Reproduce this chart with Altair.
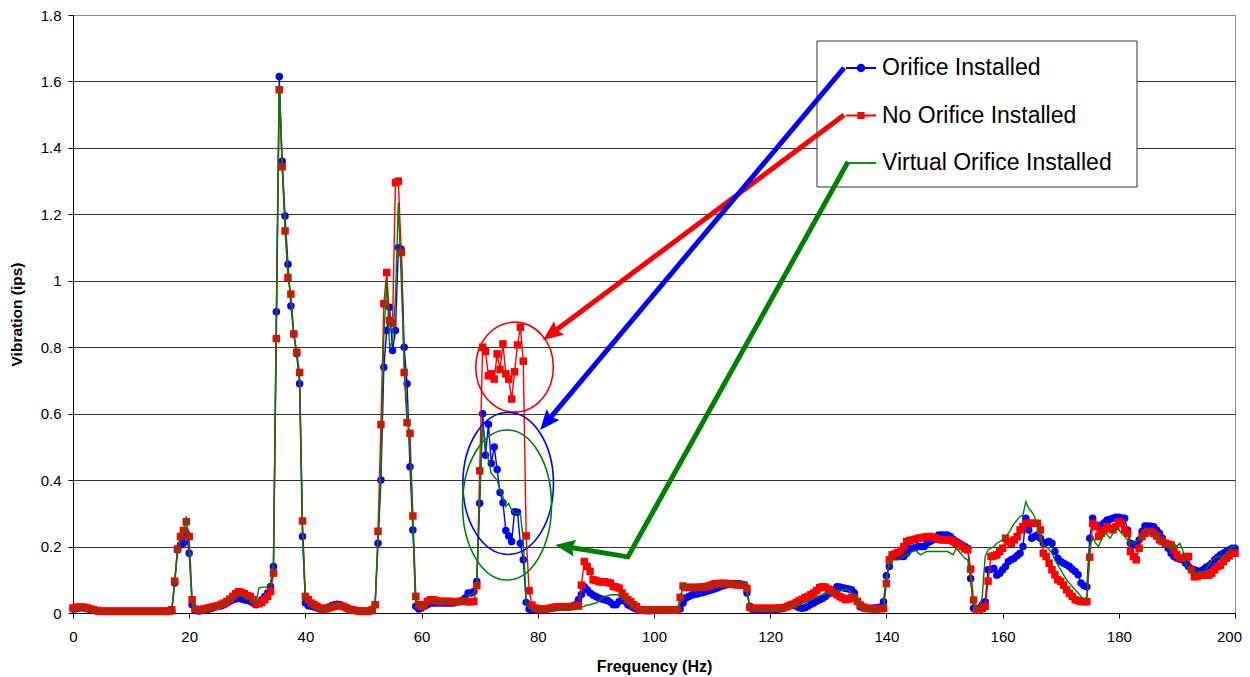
import math
import altair as alt
import pandas as pd

# ---------------- data ----------------
SERIES = ["Orifice Installed", "No Orifice Installed", "Virtual Orifice Installed"]
COLORS = ["#0000FF", "#FF0000", "#008000"]

FREQ = [i * 0.5 for i in range(401)]  # spectral lines, Hz

ORIFICE = [
    0.012, 0.013, 0.015, 0.016, 0.015, 0.013, 0.010, 0.008, 0.006, 0.005, 0.005, 0.005, 0.005, 0.005, 0.005, 0.005, 0.005, 0.005, 0.005, 0.005,
    0.005, 0.005, 0.005, 0.005, 0.005, 0.005, 0.005, 0.005, 0.005, 0.005, 0.005, 0.005, 0.005, 0.005, 0.006, 0.090, 0.190, 0.205, 0.210, 0.240,
    0.180, 0.025, 0.008, 0.006, 0.007, 0.008, 0.010, 0.012, 0.015, 0.018, 0.020, 0.022, 0.025, 0.030, 0.035, 0.040, 0.042, 0.045, 0.042, 0.040,
    0.038, 0.035, 0.030, 0.025, 0.030, 0.040, 0.050, 0.060, 0.080, 0.140, 0.907, 1.615, 1.360, 1.195, 1.050, 0.924, 0.840, 0.780, 0.690, 0.230,
    0.030, 0.022, 0.020, 0.018, 0.015, 0.012, 0.012, 0.015, 0.018, 0.022, 0.025, 0.026, 0.025, 0.020, 0.015, 0.012, 0.010, 0.008, 0.006, 0.005,
    0.005, 0.005, 0.006, 0.010, 0.025, 0.210, 0.400, 0.740, 0.850, 0.920, 0.790, 0.850, 1.100, 1.095, 0.800, 0.690, 0.440, 0.250, 0.020, 0.012,
    0.015, 0.020, 0.025, 0.030, 0.030, 0.030, 0.030, 0.030, 0.030, 0.030, 0.030, 0.030, 0.032, 0.035, 0.038, 0.045, 0.060, 0.060, 0.065, 0.095,
    0.330, 0.600, 0.475, 0.568, 0.450, 0.500, 0.432, 0.363, 0.332, 0.248, 0.232, 0.215, 0.305, 0.303, 0.210, 0.160, 0.032, 0.012, 0.010, 0.010,
    0.010, 0.012, 0.012, 0.013, 0.014, 0.015, 0.016, 0.017, 0.018, 0.018, 0.018, 0.018, 0.020, 0.025, 0.040, 0.056, 0.079, 0.070, 0.060, 0.054,
    0.050, 0.045, 0.042, 0.040, 0.038, 0.032, 0.025, 0.025, 0.035, 0.040, 0.035, 0.025, 0.020, 0.015, 0.012, 0.010, 0.008, 0.007, 0.007, 0.007,
    0.008, 0.008, 0.009, 0.009, 0.010, 0.010, 0.010, 0.010, 0.010, 0.012, 0.030, 0.045, 0.050, 0.054, 0.056, 0.058, 0.060, 0.062, 0.065, 0.068,
    0.070, 0.073, 0.076, 0.080, 0.083, 0.085, 0.087, 0.089, 0.089, 0.088, 0.087, 0.085, 0.060, 0.020, 0.010, 0.008, 0.008, 0.008, 0.008, 0.008,
    0.009, 0.010, 0.011, 0.012, 0.013, 0.016, 0.020, 0.024, 0.024, 0.020, 0.016, 0.014, 0.016, 0.020, 0.026, 0.030, 0.035, 0.040, 0.044, 0.050,
    0.057, 0.062, 0.070, 0.079, 0.078, 0.076, 0.074, 0.072, 0.070, 0.060, 0.035, 0.019, 0.015, 0.014, 0.014, 0.014, 0.015, 0.016, 0.018, 0.034,
    0.112, 0.140, 0.170, 0.170, 0.170, 0.170, 0.170, 0.180, 0.195, 0.195, 0.197, 0.200, 0.200, 0.200, 0.210, 0.215, 0.220, 0.228, 0.235, 0.235,
    0.235, 0.235, 0.230, 0.222, 0.215, 0.210, 0.205, 0.200, 0.195, 0.104, 0.014, 0.012, 0.015, 0.025, 0.034, 0.130, 0.132, 0.134, 0.114, 0.120,
    0.130, 0.140, 0.155, 0.160, 0.165, 0.172, 0.180, 0.200, 0.285, 0.250, 0.225, 0.230, 0.235, 0.225, 0.210, 0.212, 0.215, 0.210, 0.185, 0.165,
    0.155, 0.150, 0.145, 0.140, 0.132, 0.125, 0.115, 0.090, 0.082, 0.079, 0.225, 0.285, 0.265, 0.260, 0.265, 0.272, 0.280, 0.282, 0.285, 0.288,
    0.288, 0.286, 0.285, 0.250, 0.210, 0.207, 0.205, 0.220, 0.245, 0.262, 0.262, 0.261, 0.260, 0.250, 0.240, 0.225, 0.210, 0.195, 0.180, 0.170,
    0.165, 0.162, 0.160, 0.150, 0.140, 0.133, 0.130, 0.127, 0.124, 0.130, 0.138, 0.142, 0.150, 0.160, 0.168, 0.175, 0.180, 0.185, 0.190, 0.195,
    0.195,
]

NO_ORIFICE = [
    0.015, 0.017, 0.018, 0.018, 0.017, 0.015, 0.012, 0.010, 0.008, 0.006, 0.005, 0.005, 0.005, 0.005, 0.005, 0.005, 0.005, 0.005, 0.005, 0.005,
    0.005, 0.005, 0.005, 0.005, 0.005, 0.005, 0.005, 0.005, 0.005, 0.005, 0.005, 0.005, 0.005, 0.005, 0.010, 0.096, 0.193, 0.230, 0.248, 0.275,
    0.230, 0.040, 0.012, 0.010, 0.010, 0.012, 0.014, 0.016, 0.018, 0.020, 0.022, 0.026, 0.030, 0.035, 0.042, 0.050, 0.058, 0.064, 0.062, 0.058,
    0.052, 0.050, 0.040, 0.028, 0.028, 0.032, 0.040, 0.050, 0.065, 0.120, 0.826, 1.575, 1.343, 1.150, 1.010, 0.960, 0.840, 0.785, 0.724, 0.277,
    0.050, 0.040, 0.030, 0.025, 0.020, 0.015, 0.012, 0.012, 0.015, 0.018, 0.020, 0.022, 0.022, 0.020, 0.016, 0.012, 0.010, 0.008, 0.006, 0.005,
    0.005, 0.005, 0.006, 0.010, 0.025, 0.246, 0.567, 0.931, 1.025, 0.881, 0.873, 1.295, 1.300, 1.085, 0.724, 0.573, 0.541, 0.292, 0.050, 0.025,
    0.020, 0.025, 0.035, 0.040, 0.040, 0.038, 0.035, 0.035, 0.035, 0.035, 0.035, 0.033, 0.033, 0.035, 0.035, 0.035, 0.034, 0.034, 0.035, 0.082,
    0.428, 0.800, 0.787, 0.714, 0.720, 0.704, 0.780, 0.733, 0.810, 0.720, 0.704, 0.644, 0.726, 0.807, 0.860, 0.758, 0.232, 0.067, 0.024, 0.015,
    0.012, 0.012, 0.012, 0.012, 0.014, 0.016, 0.018, 0.019, 0.019, 0.019, 0.019, 0.019, 0.020, 0.021, 0.021, 0.084, 0.155, 0.140, 0.125, 0.100,
    0.098, 0.094, 0.094, 0.094, 0.092, 0.090, 0.080, 0.078, 0.075, 0.060, 0.050, 0.040, 0.034, 0.025, 0.019, 0.010, 0.009, 0.009, 0.009, 0.009,
    0.009, 0.009, 0.009, 0.009, 0.009, 0.009, 0.009, 0.009, 0.009, 0.047, 0.081, 0.077, 0.077, 0.077, 0.077, 0.077, 0.078, 0.078, 0.079, 0.082,
    0.085, 0.088, 0.089, 0.089, 0.089, 0.089, 0.088, 0.087, 0.085, 0.084, 0.084, 0.084, 0.074, 0.017, 0.014, 0.014, 0.014, 0.014, 0.014, 0.014,
    0.014, 0.014, 0.014, 0.015, 0.015, 0.017, 0.020, 0.024, 0.027, 0.032, 0.037, 0.041, 0.046, 0.050, 0.055, 0.060, 0.068, 0.076, 0.079, 0.078,
    0.072, 0.067, 0.060, 0.055, 0.049, 0.045, 0.040, 0.042, 0.047, 0.045, 0.035, 0.024, 0.018, 0.014, 0.013, 0.012, 0.012, 0.012, 0.013, 0.014,
    0.089, 0.160, 0.175, 0.178, 0.182, 0.188, 0.200, 0.215, 0.218, 0.220, 0.222, 0.225, 0.226, 0.228, 0.230, 0.230, 0.228, 0.225, 0.222, 0.220,
    0.220, 0.220, 0.220, 0.215, 0.210, 0.205, 0.200, 0.193, 0.190, 0.132, 0.039, 0.009, 0.010, 0.014, 0.020, 0.096, 0.170, 0.172, 0.175, 0.185,
    0.195, 0.225, 0.215, 0.210, 0.220, 0.230, 0.250, 0.260, 0.270, 0.270, 0.270, 0.270, 0.270, 0.250, 0.180, 0.170, 0.150, 0.130, 0.115, 0.100,
    0.095, 0.084, 0.070, 0.059, 0.050, 0.040, 0.037, 0.035, 0.034, 0.034, 0.168, 0.270, 0.260, 0.230, 0.240, 0.250, 0.260, 0.255, 0.250, 0.260,
    0.275, 0.270, 0.250, 0.240, 0.185, 0.170, 0.160, 0.195, 0.230, 0.240, 0.245, 0.245, 0.240, 0.232, 0.220, 0.215, 0.210, 0.207, 0.205, 0.190,
    0.175, 0.165, 0.165, 0.170, 0.170, 0.130, 0.109, 0.110, 0.114, 0.114, 0.114, 0.114, 0.120, 0.130, 0.140, 0.144, 0.155, 0.165, 0.172, 0.180,
    0.180,
]

VIRTUAL = [
    0.013, 0.015, 0.017, 0.017, 0.016, 0.014, 0.011, 0.009, 0.007, 0.005, 0.005, 0.005, 0.005, 0.005, 0.005, 0.005, 0.005, 0.005, 0.005, 0.005,
    0.005, 0.005, 0.005, 0.005, 0.005, 0.005, 0.005, 0.005, 0.005, 0.005, 0.005, 0.005, 0.005, 0.005, 0.008, 0.090, 0.200, 0.215, 0.250, 0.290,
    0.200, 0.030, 0.010, 0.008, 0.008, 0.010, 0.012, 0.014, 0.016, 0.019, 0.021, 0.024, 0.028, 0.032, 0.038, 0.045, 0.050, 0.055, 0.052, 0.050,
    0.045, 0.040, 0.035, 0.030, 0.075, 0.078, 0.078, 0.078, 0.090, 0.150, 0.870, 1.590, 1.350, 1.170, 1.030, 0.940, 0.840, 0.780, 0.700, 0.250,
    0.040, 0.030, 0.025, 0.020, 0.017, 0.014, 0.012, 0.013, 0.016, 0.020, 0.022, 0.024, 0.023, 0.020, 0.016, 0.012, 0.010, 0.008, 0.006, 0.005,
    0.005, 0.005, 0.006, 0.010, 0.025, 0.220, 0.450, 0.830, 1.000, 0.800, 0.820, 0.950, 1.235, 1.000, 0.760, 0.600, 0.500, 0.270, 0.030, 0.020,
    0.018, 0.022, 0.030, 0.035, 0.035, 0.034, 0.033, 0.033, 0.033, 0.033, 0.032, 0.032, 0.033, 0.035, 0.036, 0.040, 0.050, 0.055, 0.060, 0.090,
    0.350, 0.570, 0.500, 0.460, 0.420, 0.410, 0.400, 0.370, 0.350, 0.320, 0.330, 0.310, 0.300, 0.300, 0.300, 0.220, 0.030, 0.015, 0.012, 0.010,
    0.010, 0.010, 0.011, 0.012, 0.013, 0.014, 0.015, 0.016, 0.016, 0.016, 0.016, 0.016, 0.016, 0.017, 0.017, 0.018, 0.020, 0.024, 0.025, 0.028,
    0.030, 0.035, 0.045, 0.050, 0.052, 0.054, 0.055, 0.055, 0.055, 0.050, 0.045, 0.035, 0.028, 0.020, 0.015, 0.010, 0.009, 0.009, 0.009, 0.009,
    0.009, 0.009, 0.009, 0.009, 0.009, 0.009, 0.009, 0.009, 0.009, 0.030, 0.090, 0.085, 0.080, 0.078, 0.075, 0.075, 0.076, 0.077, 0.078, 0.080,
    0.082, 0.084, 0.086, 0.087, 0.088, 0.088, 0.088, 0.089, 0.090, 0.092, 0.093, 0.090, 0.060, 0.018, 0.012, 0.011, 0.011, 0.011, 0.011, 0.011,
    0.011, 0.012, 0.012, 0.013, 0.014, 0.016, 0.019, 0.022, 0.025, 0.026, 0.027, 0.029, 0.032, 0.036, 0.040, 0.044, 0.048, 0.052, 0.055, 0.058,
    0.060, 0.062, 0.064, 0.066, 0.068, 0.070, 0.070, 0.068, 0.062, 0.055, 0.035, 0.020, 0.015, 0.013, 0.013, 0.013, 0.013, 0.014, 0.015, 0.025,
    0.100, 0.150, 0.160, 0.160, 0.160, 0.165, 0.172, 0.175, 0.178, 0.185, 0.190, 0.180, 0.175, 0.182, 0.185, 0.185, 0.185, 0.185, 0.185, 0.185,
    0.185, 0.185, 0.180, 0.175, 0.195, 0.185, 0.175, 0.165, 0.160, 0.100, 0.020, 0.010, 0.012, 0.050, 0.170, 0.190, 0.195, 0.200, 0.210, 0.215,
    0.220, 0.230, 0.240, 0.255, 0.270, 0.280, 0.290, 0.295, 0.335, 0.315, 0.305, 0.290, 0.260, 0.220, 0.205, 0.200, 0.190, 0.180, 0.160, 0.145,
    0.130, 0.115, 0.100, 0.090, 0.080, 0.070, 0.060, 0.050, 0.040, 0.050, 0.200, 0.230, 0.210, 0.200, 0.220, 0.240, 0.235, 0.225, 0.240, 0.255,
    0.250, 0.240, 0.230, 0.220, 0.215, 0.210, 0.215, 0.220, 0.235, 0.245, 0.245, 0.245, 0.240, 0.230, 0.222, 0.215, 0.207, 0.200, 0.190, 0.210,
    0.200, 0.210, 0.190, 0.150, 0.130, 0.122, 0.120, 0.120, 0.120, 0.125, 0.130, 0.145, 0.160, 0.165, 0.170, 0.170, 0.170, 0.180, 0.190, 0.200,
    0.200,
]

X_TICKS = [0, 20, 40, 60, 80, 100, 120, 140, 160, 180, 200]
Y_TICKS = [0.0, 0.2, 0.4, 0.6, 0.8, 1.0, 1.2, 1.4, 1.6, 1.8]

# annotation geometry (data units: Hz, ips)
ELLIPSE_F = [76.0, 74.9, 74.7]
ELLIPSE_V = [0.74, 0.39, 0.325]
ARROW_BLUE_F, ARROW_BLUE_V = [132.7, 80.4], [1.641, 0.551]
ARROW_RED_F, ARROW_RED_V = [132.7, 80.9], [1.499, 0.822]
ARROW_GREEN_F, ARROW_GREEN_V = [133.4, 95.5, 83.0], [1.358, 0.169, 0.205]
LEGEND_BOX_F = [128.05, 183.13]
LEGEND_BOX_V = [1.7217, 1.2823]

# ---------------- layout ----------------
W, H = 1162, 598
PXF = W / 200.0
PXV = H / 1.8
FONT = "Liberation Sans"

df = pd.concat([
    pd.DataFrame({"series": name, "f": FREQ, "v": vals})
    for name, vals in zip(SERIES, [ORIFICE, NO_ORIFICE, VIRTUAL])
], ignore_index=True)

x_scale = alt.Scale(domain=[0, 200], nice=False, zero=False)
y_scale = alt.Scale(domain=[0, 1.8], nice=False, zero=False)
x_axis = alt.Axis(values=X_TICKS, title="Frequency (Hz)", grid=False, labelFlush=False,
                  labelOverlap=False, domainColor="black", tickColor="black", tickSize=5,
                  labelFont=FONT, labelFontSize=15, labelColor="black", labelPadding=11,
                  labelOffset={"condition": {"test": "datum.value >= 200", "value": -6},
                               "value": 0},
                  titleFont=FONT, titleFontSize=16, titleFontWeight="bold", titleColor="black",
                  titlePadding=14)
y_axis = alt.Axis(values=Y_TICKS, title="Vibration (ips)", format=".1~f", grid=True,
                  gridColor={"condition": {"test": "datum.value > 1.79", "value": "#8c8c8c"},
                             "value": "#333333"},
                  gridWidth=1, labelFlush=False, labelOverlap=False, domainColor="black",
                  tickColor="black", tickSize=5, labelFont=FONT, labelFontSize=15,
                  labelColor="black", labelPadding=7, titleFont=FONT, titleFontSize=15.5,
                  titleFontWeight="bold", titleColor="black", titlePadding=16)
X = alt.X("f:Q", scale=x_scale, axis=x_axis)
Y = alt.Y("v:Q", scale=y_scale, axis=y_axis)

base = alt.Chart(df)


def series_chart(name):
    return base.transform_filter(alt.datum.series == name)


blue_line = series_chart(SERIES[0]).mark_line(color=COLORS[0], strokeWidth=1.4).encode(x=X, y=Y)
blue_pts = series_chart(SERIES[0]).mark_circle(color=COLORS[0], size=56, opacity=1).encode(x=X, y=Y)
red_line = series_chart(SERIES[1]).mark_line(color=COLORS[1], strokeWidth=1.4).encode(x=X, y=Y)
red_pts = series_chart(SERIES[1]).mark_square(color=COLORS[1], size=56, opacity=1).encode(x=X, y=Y)
green_line = series_chart(SERIES[2]).mark_line(color=COLORS[2], strokeWidth=1.4).encode(x=X, y=Y)


def ellipse_path(a, b):
    k = 0.5523
    r = lambda z: f"{z:.4f}"
    return (f"M{r(a)},0 C{r(a)},{r(k*b)} {r(k*a)},{r(b)} 0,{r(b)} "
            f"C{r(-k*a)},{r(b)} {r(-a)},{r(k*b)} {r(-a)},0 "
            f"C{r(-a)},{r(-k*b)} {r(-k*a)},{r(-b)} 0,{r(-b)} "
            f"C{r(k*a)},{r(-b)} {r(a)},{r(-k*b)} {r(a)},0 Z")


# ellipse pixel radii (rx, ry)
ELLIPSE_R = [(38.8, 45.0), (45.3, 71.0), (44.5, 75.0)]
ellipses = []
for i, (rx, ry) in enumerate(ELLIPSE_R):
    R = max(rx, ry)
    ell_df = pd.DataFrame({"f": [ELLIPSE_F[i]], "v": [ELLIPSE_V[i]]})
    ellipses.append(
        alt.Chart(ell_df).mark_point(shape=ellipse_path(rx / R, ry / R), size=(2 * R) ** 2,
                                     filled=False, color=COLORS[[1, 0, 2][i]], strokeWidth=1.6,
                                     opacity=1).encode(x=X, y=Y)
    )

ARROW_HEAD = "M0,0 L0.42,1 L0,0.85 L-0.42,1 Z"
HEAD_LEN = 20.0


def arrow(fs, vs, color):
    dx = (fs[-1] - fs[-2]) * PXF
    dy = -(vs[-1] - vs[-2]) * PXV
    d = math.hypot(dx, dy)
    t = (d - HEAD_LEN * 0.8) / d
    lf = fs[:-1] + [fs[-2] + (fs[-1] - fs[-2]) * t]
    lv = vs[:-1] + [vs[-2] + (vs[-1] - vs[-2]) * t]
    ang = math.degrees(math.atan2(dx, -dy)) % 360
    line_df = pd.DataFrame({"f": lf, "v": lv, "i": list(range(len(lf)))})
    line = alt.Chart(line_df).mark_line(color=color, strokeWidth=5, strokeJoin="miter").encode(
        x=X, y=Y, order="i:O")
    head_df = pd.DataFrame({"f": [fs[-1]], "v": [vs[-1]]})
    head = alt.Chart(head_df).mark_point(shape=ARROW_HEAD, size=(2 * HEAD_LEN) ** 2, filled=True,
                                         color=color, opacity=1, angle=ang).encode(x=X, y=Y)
    return [line, head]


arrows = (arrow(ARROW_RED_F, ARROW_RED_V, COLORS[1])
          + arrow(ARROW_BLUE_F, ARROW_BLUE_V, COLORS[0])
          + arrow(ARROW_GREEN_F, ARROW_GREEN_V, COLORS[2]))

box_df = pd.DataFrame({"f": [LEGEND_BOX_F[0]], "f2": [LEGEND_BOX_F[1]],
                       "v": [LEGEND_BOX_V[0]], "v2": [LEGEND_BOX_V[1]]})
legend_box = alt.Chart(box_df).mark_rect(fill="white", stroke="#333333", strokeWidth=1).encode(
    x=X, x2="f2:Q", y=Y, y2="v2:Q")

# legend symbols: line segment plus marker
LINE_PART = "M-1,-0.06 L1,-0.06 L1,0.06 L-1,0.06 Z"
LEG_PATHS = [
    LINE_PART + " " + ellipse_path(0.28, 0.28),
    LINE_PART + " M-0.24,-0.24 L0.24,-0.24 L0.24,0.24 L-0.24,0.24 Z",
    LINE_PART,
]
leg = alt.Legend(title=None, orient="none", legendX=773, legendY=38, padding=0,
                 symbolOffset=0, symbolSize=900, symbolStrokeWidth=0, symbolOpacity=1,
                 labelFont=FONT, labelFontSize=23, labelColor="black", labelLimit=500,
                 labelOffset=6, rowPadding=20.5)
legend_layer = base.transform_filter("false").mark_point(filled=True, opacity=1, size=900).encode(
    x=X, y=Y,
    shape=alt.Shape("series:N", scale=alt.Scale(domain=SERIES, range=LEG_PATHS), legend=leg),
    fill=alt.Fill("series:N", scale=alt.Scale(domain=SERIES, range=COLORS), legend=leg),
)

chart = alt.layer(
    legend_box, blue_line, blue_pts, red_line, red_pts, green_line,
    *ellipses, *arrows, legend_layer,
).properties(
    width=W, height=H,
    autosize=alt.AutoSizeParams(type="none"),
    padding={"left": 65, "top": 7, "right": 7, "bottom": 62},
).configure_view(stroke="#8c8c8c", strokeWidth=1)

chart.save("out.html", embed_options={"renderer": "svg", "actions": False})
